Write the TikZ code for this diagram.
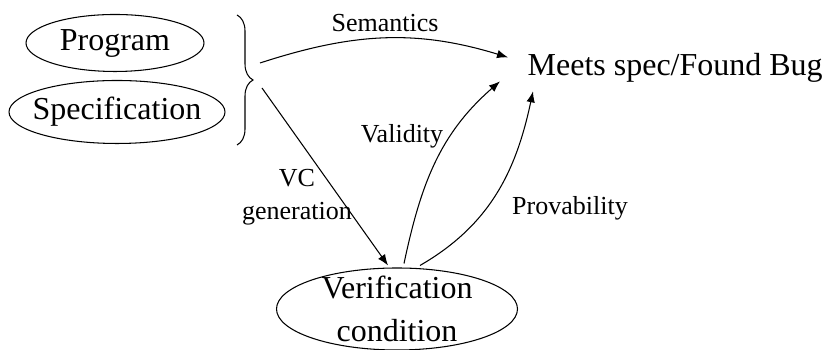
\documentclass[tikz,border=0pt]{standalone}
\usepackage{fontspec}
\setmainfont{Liberation Serif}
\usetikzlibrary{shapes.geometric,arrows.meta,decorations.pathreplacing}

\tikzset{
  big/.style={font=\fontsize{9.1}{12.2}\selectfont},
  small/.style={font=\fontsize{7.4}{9.4}\selectfont},
  oval/.style={draw, ellipse, inner sep=0pt, big, line width=0.3pt},
  arr/.style={-{Latex[length=1.1mm,width=0.85mm]}, line width=0.3pt},
}

\begin{document}
\begin{tikzpicture}
  \useasboundingbox (0,0) rectangle (8.26,3.5);

  % inputs
  \node[oval, minimum width=1.78cm, minimum height=0.57cm] (prog) at (1.15,3.07) {Program};
  \node[oval, inner xsep=-0.08cm, minimum width=2.10cm, minimum height=0.63cm] (spec) at (1.17,2.38) {Specification};

  % brace grouping the two inputs
  \draw[line width=0.3pt, decorate, decoration={brace, amplitude=0.16cm}]
    (2.37,3.35) -- (2.37,2.05);
  \coordinate (semstart) at (2.60,2.87);
  \coordinate (vcstart) at (2.62,2.62);

  % goal
  \node[big, anchor=base west, inner sep=0pt] (goal) at (5.27,2.74) {Meets spec/Found Bug};

  % verification condition
  \node[oval, align=center, inner ysep=-0.09cm, minimum width=2.41cm, minimum height=0.82cm] (vc) at (3.97,0.41)
    {Verification\\condition};

  % arrows
  \draw[arr] (semstart) to[out=18, in=163] ([xshift=-0.19cm, yshift=0.11cm]goal.west);
  \draw[arr] (vcstart) -- ([xshift=-0.09cm, yshift=0.02cm]vc.north);
  \draw[arr] ([xshift=0.07cm, yshift=0.04cm]vc.north) to[out=78, in=221] ([xshift=-0.27cm, yshift=-0.13cm]goal.west);
  \draw[arr] ([xshift=0.23cm, yshift=0.02cm]vc.north) to[out=30, in=258] ([xshift=0.06cm, yshift=-0.23cm]goal.west);

  % labels
  \node[small] (semlbl) at (3.85,3.27) {Semantics};
  \node[small, align=center] (vclbl) at (2.97,1.53) {VC\\generation};
  \node[small] (vallbl) at (4.02,2.14) {Validity};
  \node[small] (provlbl) at (5.70,1.42) {Provability};
\end{tikzpicture}
\end{document}
